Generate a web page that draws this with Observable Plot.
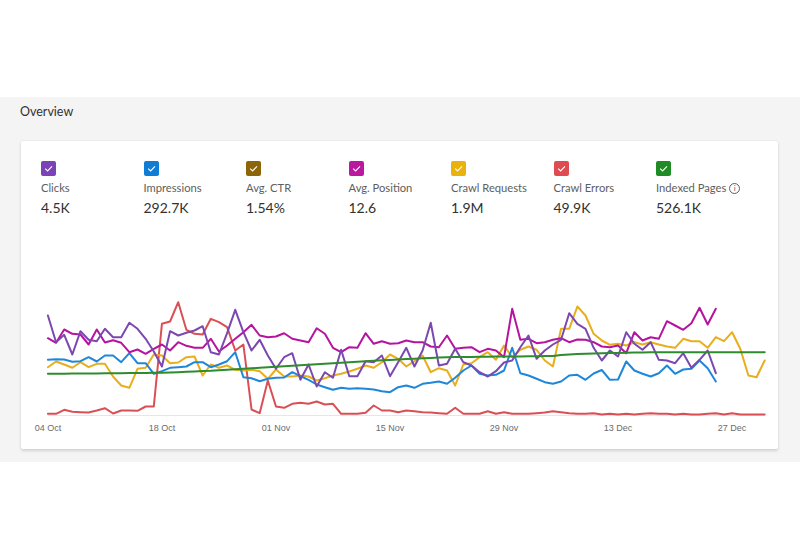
<!DOCTYPE html>
<html>
<head>
<meta charset="utf-8">
<script src="https://cdn.jsdelivr.net/npm/d3@7"></script>
<script src="https://cdn.jsdelivr.net/npm/@observablehq/plot@0.6"></script>
<style>
  html, body { margin: 0; padding: 0; background: #fff; }
  body { width: 800px; height: 560px; position: relative; overflow: hidden; font-family: "Segoe UI", Lato, "Liberation Sans", sans-serif; }
  #band { position: absolute; left: 0; top: 97px; width: 800px; height: 365px; background: #f4f4f4; }
  #title { position: absolute; left: 20px; top: 104px; font-size: 12.5px; color: #323130; }
  #card { position: absolute; left: 21px; top: 141px; width: 757px; height: 308px; background: #fff; border-radius: 2px;
          box-shadow: 0 1.2px 3.2px rgba(0,0,0,0.14), 0 0 1px rgba(0,0,0,0.08); }
  .item { position: absolute; top: 20px; }
  .box { width: 15px; height: 15px; border-radius: 2px; position: relative; }
  .box svg { position: absolute; left: 0; top: 0; }
  .lab { position: absolute; top: 40px; font-size: 11.2px; color: #605e5c; white-space: nowrap; }
  .val { position: absolute; top: 58px; font-size: 14px; color: #323130; white-space: nowrap; }
  .info { display: inline-block; width: 9px; height: 9px; border: 1px solid #605e5c; border-radius: 50%; font-size: 8px; line-height: 9px; text-align: center; margin-left: 3px; vertical-align: 1px; color: #605e5c; }
  #chart { position: absolute; left: 0; top: 139px; }
</style>
</head>
<body>
<div id="band"></div>
<div id="title">Overview</div>
<div id="card"><div id="legend"></div><div id="chart"></div></div>
<script>
// ---- legend / KPI data ----
const metricNames  = ["Clicks", "Impressions", "Avg. CTR", "Avg. Position", "Crawl Requests", "Crawl Errors", "Indexed Pages"];
const metricTotals = ["4.5K", "292.7K", "1.54%", "12.6", "1.9M", "49.9K", "526.1K"];
const metricColors = ["#7a43b6", "#0f7cd6", "#8b6508", "#b9189f", "#eab20c", "#de4c51", "#1f8b24"];

// ---- x axis ----
const startDate = new Date(Date.UTC(2021, 9, 4));
const tickLabels = ["04 Oct", "18 Oct", "01 Nov", "15 Nov", "29 Nov", "13 Dec", "27 Dec"];

// ---- daily series (relative height of each line, 04 Oct onward) ----
const clicks = [100,73.3,80.7,61,84.3,75.7,74.3,86.7,78.3,78.3,92.7,86.7,76.7,64,49,84.3,80,82.7,85,89.3,
  63.3,61,82.3,105.7,83.3,65,75.7,60,46.7,58.3,62.3,35.7,51,29,43.3,37.7,65.7,39.3,39.3,54.3,
  53.3,60,39.3,53.3,67.7,49,65,92.7,50,51.7,66.7,53.3,50,43.3,39,44.3,53,55,68.3,80,
  56.7,65,71,75.7,102.3,91.7,86.7,67.7,55,65,59,83.3,71.7,65.7,73.3,55.7,55,52.3,62.3,47.7,
  55.7,65,42.3];
const impressions = [55.7,56.3,56,53.7,54.3,58.3,54,60,60,53.3,62.3,52.3,52.3,41.7,44.3,47.7,48.3,49,53.3,53.3,
  48.3,51,54.3,63.3,38.3,37.3,34.3,36.7,37.7,38,43.3,39.3,35.7,31,28.3,25.7,27.7,26.7,27.3,26.7,
  26,24.3,23.3,28.3,30,27.7,31.7,32.7,34,31.7,37.7,45,50,41.7,40,40.7,45,67.7,42.3,40,
  36.7,33.3,31.7,34,40,40.7,35.7,42,45.5,35.7,36,54,45,41.7,39,42.3,50,41.7,46,46.7,
  55,47.3,34];
const avgPosition = [77.3,72.7,86,81.7,81,71,86,73,75.3,72.7,63.3,66,61.7,66.7,71,65,73.3,69.7,67.7,67.7,
  76.7,64,70,76.7,83.3,90.7,80,78.3,79,82.3,76.7,75,73.3,87.3,81.7,67.7,63.3,68.3,67.7,82.3,
  71.7,74.3,71.7,72.3,75,73.3,73.3,69,68.3,80,66.7,67.7,68.3,63.3,66.7,65,58.3,106.7,75.7,76.7,
  72.3,73.3,75.7,77.3,73.3,76,75.7,73.3,69,68.3,70,62.3,83.3,75,78.3,76.7,94.3,90,85.7,92.3,
  107.7,91,106.7];
const crawlRequests = [48.3,54,51,47.7,53.3,48.3,51.7,51.7,39,30,27.7,46.7,47.7,61,60,52.3,53,58.3,59,40,
  51,47.7,50,45.7,45,45.7,44.3,36.7,46,39,39,40,39,35,37.3,40,41.7,44,46.7,50,
  47.7,53.3,61,56.7,49,54.3,60,43.3,47.3,45,30,51,52.3,58.3,63.3,55.7,70,58.3,65.7,69,
  65.7,55,49,86.7,86.7,109,100,81.7,75,70.7,71.7,70,73.3,71,73.3,71,69,67.7,76.7,74.3,
  74.3,67.7,78.3,74.3,83.3,66.7,40,38.3,55];
const crawlErrors = [1.7,1.7,5.7,3.7,3.3,3,5,7.3,2,5,5,4.7,9,9,91.7,94,113.3,85.7,81.7,81,
  96.7,93.3,88.3,65,71,6,2.3,35,9,7.7,11.7,12.7,11.7,14,11,11.7,1.7,1.7,1.7,2.7,
  10,5,5,3.3,5,4.3,3.3,3,2.3,1.7,7.7,1.7,1.7,1.7,4.3,1.7,3.3,1.7,1.7,1.7,
  2.3,3,4.3,3.3,2.3,1.7,1.7,2.3,1,1.7,1,1.7,1,1.7,2.3,1.7,1.7,1,1.7,1,
  1,1.7,2.3,1,2.3,1,1,1,1];
const indexedPages = [41.7,41.7,41.8,41.9,42,42,42.1,42.2,42.3,42.3,42.4,42.5,42.6,42.7,42.8,43,43.3,43.7,44,44.4,
  44.7,45.2,45.7,46.2,46.7,47.2,47.7,48.2,48.7,49.2,49.7,50.2,50.7,51.2,51.7,52.2,52.7,53.2,53.7,54.2,
  54.7,55.2,55.6,56,56.4,56.8,57.2,57.6,57.9,58.2,58.4,58.5,58.6,58.7,58.8,58.9,59,59,59.1,59.2,
  59.3,59.4,59.5,60.4,61,61.4,61.7,62,62.2,62.4,62.6,62.8,63,63.1,63.2,63.3,63.3,63.3,63.3,63.3,
  63.3,63.3,63.3,63.3,63.3,63.3,63.3,63.3,63.3];

const lineColors = {
  clicks: "#7b48b0", impressions: "#1f87d9", avgPosition: "#b5149f",
  crawlRequests: "#e8ae1c", crawlErrors: "#da4f55", indexedPages: "#2e8c2e"
};

// ---- legend ----
const legend = document.getElementById("legend");
metricNames.forEach((name, i) => {
  const left = 20 + i * 102.5;
  const item = document.createElement("div");
  item.className = "item";
  item.style.left = left + "px";
  item.innerHTML = `<div class="box" style="background:${metricColors[i]}"><svg width="15" height="15"><path d="M4.2 7.6 L6.6 10 L11 5.3" fill="none" stroke="#fff" stroke-width="1.1"/></svg></div>`;
  legend.appendChild(item);
  const lab = document.createElement("div");
  lab.className = "lab";
  lab.style.left = left + "px";
  lab.innerHTML = name + (name === "Indexed Pages" ? '<span class="info">i</span>' : "");
  legend.appendChild(lab);
  const val = document.createElement("div");
  val.className = "val";
  val.style.left = left + "px";
  val.textContent = metricTotals[i];
  legend.appendChild(val);
});

// ---- chart ----
const day = i => d3.utcDay.offset(startDate, i);
const rows = arr => arr.map((v, i) => ({date: day(i), value: v}));
const tickDates = tickLabels.map((_, k) => day(k * 14));
const endDate = day(indexedPages.length - 1);

const seriesOrder = [
  ["crawlErrors", crawlErrors], ["crawlRequests", crawlRequests], ["impressions", impressions],
  ["avgPosition", avgPosition], ["clicks", clicks], ["indexedPages", indexedPages]
];

const chart = Plot.plot({
  width: 757,
  height: 160,
  marginLeft: 26.4,
  marginRight: 13.8,
  marginTop: 15,
  marginBottom: 25,
  x: {type: "utc", domain: [startDate, endDate], ticks: tickDates,
      tickFormat: d => tickLabels[tickDates.findIndex(t => +t === +d)],
      tickSize: 0, tickPadding: 9, label: null},
  y: {domain: [0, 120], axis: null},
  style: {fontSize: "9px", fontFamily: "'Liberation Sans', Arial, sans-serif", color: "#6b6b6b", background: "transparent", overflow: "visible"},
  marks: [
    Plot.ruleY([0], {stroke: "#e6e6e6", strokeWidth: 1}),
    ...seriesOrder.map(([key, arr]) =>
      Plot.line(rows(arr), {x: "date", y: "value", stroke: lineColors[key], strokeWidth: 2, curve: "linear"}))
  ]
});
document.getElementById("chart").appendChild(chart);
</script>
</body>
</html>
